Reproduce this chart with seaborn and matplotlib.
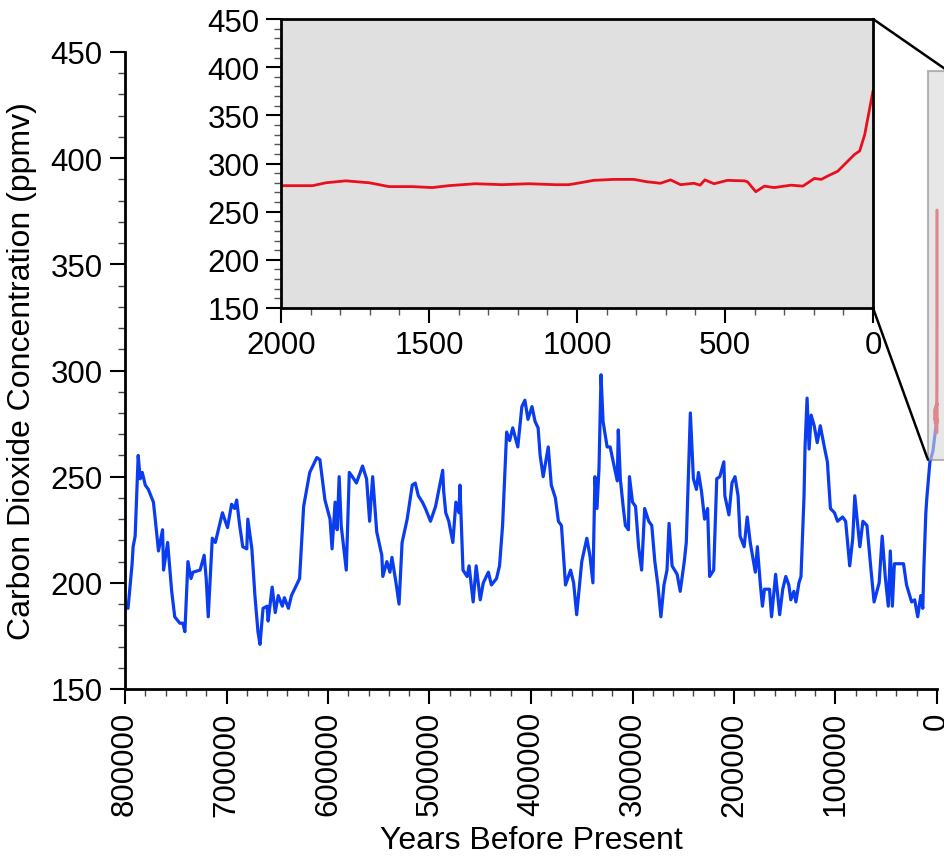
import matplotlib
matplotlib.use("Agg")
import matplotlib.pyplot as plt
from matplotlib.patches import Rectangle, ConnectionPatch
from matplotlib.ticker import MultipleLocator
import numpy as np
import pandas as pd
import seaborn as sns

# ---- ice core record (years before present, ppmv) ----
ice_kyr = [800, 797, 793, 792, 790, 787, 785, 783, 780, 777, 772, 770, 767, 763,
           762, 758, 754, 751, 746, 743, 741, 738, 735, 733, 726, 722, 720, 718,
           714, 711, 704, 699, 695, 692, 690, 687, 684, 680, 679, 675, 672, 669,
           667, 664, 660, 659, 655, 652, 649, 645, 643, 639, 636, 631, 628, 624,
           618, 611, 608, 603, 598, 596, 593, 591, 589, 587, 582, 579, 576, 572,
           566, 562, 559, 556, 552, 547, 546, 542, 539, 537, 533, 530, 527, 522,
           517, 514, 511, 507, 504, 499, 494, 487, 486, 484, 481, 477, 474, 471,
           470, 467, 463, 461, 457, 454, 450, 447, 442, 439, 434, 431, 428, 424,
           421, 418, 413, 409, 406, 403, 399, 396, 393, 391, 388, 383, 380, 376,
           373, 370, 366, 361, 358, 355, 350, 345, 342, 339, 337, 335, 333, 331,
           329, 325, 322, 319, 315, 314, 312, 309, 307, 304, 303, 300, 297, 294,
           291, 288, 284, 281, 278, 275, 272, 269, 266, 264, 261, 256, 253, 249,
           247, 243, 240, 237, 235, 232, 229, 226, 224, 220, 217, 214, 210, 209,
           205, 202, 199, 196, 194, 190, 187, 184, 179, 177, 174, 172, 170, 165,
           163, 159, 155, 152, 149, 146, 144, 141, 139, 136, 134, 131, 130, 128,
           126, 124, 121, 118, 115, 111, 108, 105, 101, 98, 93, 90, 86, 83, 81,
           76, 73, 69, 65, 62, 57, 54, 51, 48, 46, 44, 42, 33, 30, 25, 22, 19, 16,
           14, 13, 11, 10, 7, 4, 2, 0]
ice_co2 = [189, 188, 209, 217, 222, 260, 249, 252, 246, 244, 238, 229, 215, 225,
           206, 219, 196, 184, 181, 181, 177, 210, 202, 205, 206, 213, 202, 184,
           221, 219, 233, 226, 237, 235, 239, 227, 217, 216, 230, 216, 194, 177,
           171, 188, 189, 182, 198, 186, 194, 189, 193, 188, 194, 199, 202, 236,
           252, 259, 258, 239, 230, 216, 238, 225, 250, 227, 206, 252, 250, 247,
           255, 249, 229, 250, 224, 213, 203, 210, 205, 212, 200, 190, 219, 230,
           246, 247, 241, 238, 235, 229, 236, 253, 243, 233, 229, 219, 238, 233,
           246, 206, 203, 208, 191, 208, 192, 200, 205, 199, 202, 208, 227, 271,
           267, 273, 264, 283, 286, 277, 283, 276, 273, 260, 250, 264, 246, 240,
           229, 227, 199, 206, 200, 185, 210, 221, 213, 200, 250, 235, 254, 298,
           276, 264, 264, 257, 248, 272, 249, 235, 227, 225, 250, 238, 236, 217,
           206, 235, 229, 227, 210, 199, 184, 199, 206, 228, 208, 204, 196, 210,
           219, 280, 249, 244, 252, 243, 230, 235, 203, 206, 249, 250, 257, 241,
           232, 247, 250, 241, 222, 217, 231, 219, 205, 217, 199, 189, 197, 197,
           184, 204, 185, 197, 203, 199, 192, 196, 191, 200, 203, 241, 264, 287,
           263, 279, 274, 266, 274, 264, 257, 235, 233, 229, 231, 229, 208, 221,
           241, 217, 229, 227, 206, 191, 200, 222, 203, 189, 215, 189, 209, 209,
           199, 191, 192, 184, 194, 188, 206, 233, 240, 257, 262, 270, 278]

# ---- last 2000 years (years before present, ppmv) ----
recent_yr = [2000, 1893, 1848, 1781, 1702, 1635, 1556, 1489, 1433, 1343, 1253,
             1163, 1073, 1028, 989, 944, 876, 808, 763, 718, 684, 650, 605, 584,
             568, 537, 492, 435, 424, 396, 367, 334, 277, 237, 198, 175, 153,
             119, 85, 62, 45, 28, 15, 0]
recent_co2 = [277, 277, 280, 282, 280, 276, 276, 275, 277, 279, 278, 279, 278,
              278, 280, 282.5, 283.5, 283.5, 281, 279.5, 283, 278, 279.5, 277.5,
              283, 279, 282.5, 282, 281, 270.7, 276.5, 275, 277.5, 276.5, 284.5,
              283.5, 287, 292, 302.5, 309.5, 313, 330, 351, 375.5]

main_ticks = [800000, 700000, 600000, 500000, 400000, 300000, 200000, 100000, 0]
inset_ticks = [2000, 1500, 1000, 500, 0]
co2_ticks = [150, 200, 250, 300, 350, 400, 450]

ice = pd.DataFrame({"years": np.array(ice_kyr) * 1000, "co2": ice_co2})
recent = pd.DataFrame({"years": recent_yr, "co2": recent_co2})

sns.set_style("ticks")
plt.rcParams["font.family"] = ["Liberation Sans", "DejaVu Sans"]
plt.rcParams["text.color"] = "black"
plt.rcParams["axes.labelcolor"] = "black"

BLUE = "#0a3cf0"
RED = "#e8101e"
TICK_FS = 22.5
LABEL_FS = 23

fig = plt.figure(figsize=(9.45, 8.62), dpi=100)
ax = fig.add_axes([125 / 945, 172 / 862, 812 / 945, 637 / 862])

sns.lineplot(data=ice, x="years", y="co2", ax=ax, color=BLUE, linewidth=2.3,
             estimator=None, sort=False)
sns.lineplot(data=recent, x="years", y="co2", ax=ax, color=RED, linewidth=2.3,
             estimator=None, sort=False, clip_on=False)

ax.set_xlim(800000, 0)
ax.set_ylim(150, 450)
ax.set_xticks(main_ticks)
ax.set_xticklabels([str(t) for t in main_ticks], rotation=90)
ax.set_yticks(co2_ticks)
ax.xaxis.set_minor_locator(MultipleLocator(20000))
ax.yaxis.set_minor_locator(MultipleLocator(10))
ax.tick_params(which="major", direction="out", length=11, width=1.5, pad=5,
               labelsize=TICK_FS, color="black", labelcolor="black")
ax.tick_params(which="minor", direction="out", length=5, width=1, color="#444444")
sns.despine(ax=ax)
for s in ["left", "bottom"]:
    ax.spines[s].set_linewidth(2)
    ax.spines[s].set_color("black")
ax.set_xlabel("Years Before Present", fontsize=LABEL_FS, color="black")
ax.set_ylabel("Carbon Dioxide Concentration (ppmv)", fontsize=LABEL_FS,
              color="black")
ax.xaxis.set_label_coords(0.5, -0.213)
ax.yaxis.set_label_coords(-0.108, 0.5)

# shaded zoom box near present, runs off the right edge
box = Rectangle((9000, 258), -20000, 183, facecolor="#d8d8d8", alpha=0.6,
                edgecolor="#8a8a8a", linewidth=1.5, clip_on=False, zorder=5)
ax.add_patch(box)

# ---- inset: last 2000 years ----
ins = fig.add_axes([281 / 945, 553 / 862, 592 / 945, 289 / 862])
ins.set_facecolor("#e0e0e0")
sns.lineplot(data=recent, x="years", y="co2", ax=ins, color=RED, linewidth=2.0,
             estimator=None, sort=False)
ins.set_xlim(2000, 0)
ins.set_ylim(150, 450)
ins.set_xticks(inset_ticks)
ins.set_yticks(co2_ticks)
ins.xaxis.set_minor_locator(MultipleLocator(100))
ins.yaxis.set_minor_locator(MultipleLocator(10))
ins.tick_params(which="major", direction="out", length=10.5, width=1.5, pad=5,
                labelsize=TICK_FS, color="black", labelcolor="black")
ins.tick_params(which="minor", direction="out", length=5, width=1, color="#555555")
for s in ins.spines.values():
    s.set_linewidth(2)
    s.set_color("black")
ins.set_xlabel("")
ins.set_ylabel("")

# connector lines from inset to zoom box
for xyA, xyB in [((1, 1), (-11000, 441)), ((1, 0), (9000, 258))]:
    con = ConnectionPatch(xyA=xyA, coordsA=ins.transAxes, xyB=xyB,
                          coordsB=ax.transData, color="black", linewidth=1.8)
    fig.add_artist(con)

fig.savefig("out.png", dpi=100)
